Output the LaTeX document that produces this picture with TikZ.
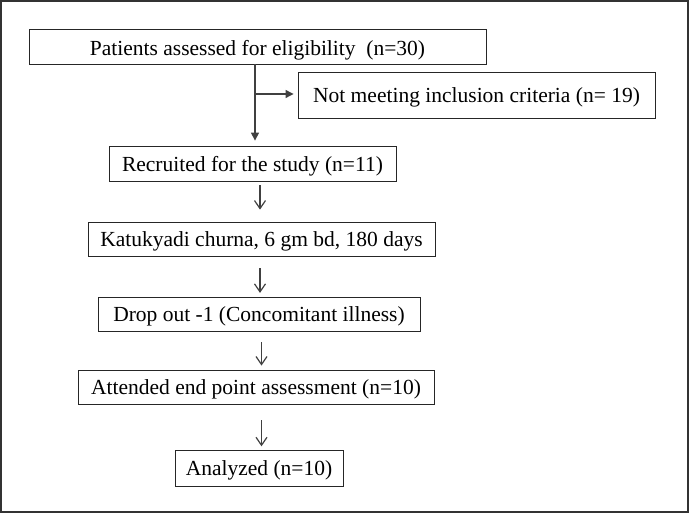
\documentclass[tikz,border=0pt]{standalone}
\usepackage{fontspec}
\setmainfont{Liberation Serif}
\usetikzlibrary{arrows.meta}
\begin{document}
\begin{tikzpicture}[x=1pt,y=-1pt,
  flowbox/.style={draw=black!85, line width=0.9pt, inner sep=0pt, minimum height=35pt,
     font=\fontsize{21.5}{24}\selectfont, text height=14.6pt, text depth=0pt, anchor=center},
  mainline/.style={draw=black!75, line width=1.2pt, -{Triangle[length=8pt,width=8pt]}},
  glyarrow/.style={draw=black!75, line width=1.2pt, -{Straight Barb[length=8pt,width=11pt,line width=1.2pt]}}]
\useasboundingbox (0,0) rectangle (689,513);
\draw[draw=black!80, line width=2.2pt] (1.1,1.1) rectangle (687.9,511.9);
\node[flowbox, minimum width=457pt, text height=18pt] (n1) at (257.5,46.5) {Patients assessed for eligibility \ (n=30)};
\node[flowbox, minimum width=357pt, minimum height=45.5pt] (n2) at (476.5,95.5) {Not meeting inclusion criteria (n= 19)};
\node[flowbox, minimum width=287pt, minimum height=35.7pt] (n3) at (252.5,163.9) {Recruited for the study (n=11)};
\node[flowbox, minimum width=347pt, minimum height=34.7pt] (n4) at (261.5,239.4) {Katukyadi churna, 6 gm bd, 180 days};
\node[flowbox, minimum width=322pt, minimum height=33.7pt] (n5) at (259,314.2) {Drop out -1 (Concomitant illness)};
\node[flowbox, minimum width=356pt, minimum height=34pt] (n6) at (256,387) {Attended end point assessment (n=10)};
\node[flowbox, minimum width=168pt, minimum height=35.3pt] (n7) at (259,468.4) {Analyzed (n=10)};
\coordinate (mx) at (255,0);
\coordinate (br) at (255,94);
\draw[mainline, shorten >=5pt] (n1.south -| mx) -- (n3.north -| mx);
\draw[mainline, shorten >=4pt] (br) -- (br -| n2.west);
\coordinate (ax1) at (260,0);
\coordinate (ax2) at (261.5,0);
\draw[glyarrow, shorten <=3pt, shorten >=12pt] (n3.south -| ax1) -- (n4.north -| ax1);
\draw[glyarrow, shorten <=11pt, shorten >=4pt] (n4.south -| ax1) -- (n5.north -| ax1);
\draw[glyarrow, shorten <=11pt, shorten >=4pt] (n5.south -| ax2) -- (n6.north -| ax2);
\draw[glyarrow, shorten <=16pt, shorten >=4pt] (n6.south -| ax2) -- (n7.north -| ax2);
\end{tikzpicture}
\end{document}
